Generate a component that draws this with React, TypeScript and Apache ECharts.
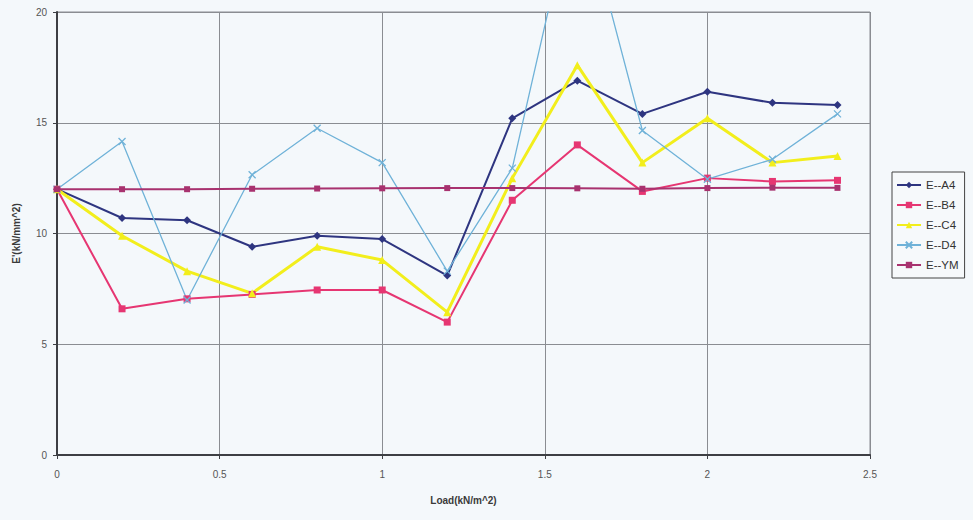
import React, { useEffect, useRef } from "react";
import * as echarts from "echarts";

const loads = [0, 0.2, 0.4, 0.6, 0.8, 1.0, 1.2, 1.4, 1.6, 1.8, 2.0, 2.2, 2.4];
const seriesNames = ["E--A4", "E--B4", "E--C4", "E--D4", "E--YM"];
const eA4 = [12, 10.7, 10.6, 9.4, 9.9, 9.75, 8.1, 15.2, 16.9, 15.4, 16.4, 15.9, 15.8];
const eB4 = [12, 6.6, 7.05, 7.25, 7.45, 7.45, 6.0, 11.5, 14.0, 11.9, 12.5, 12.35, 12.4];
const eC4 = [12, 9.9, 8.3, 7.3, 9.4, 8.8, 6.45, 12.5, 17.6, 13.2, 15.2, 13.2, 13.5];
const eD4 = [12, 14.15, 7.0, 12.65, 14.75, 13.2, 8.3, 12.95, 25.8, 14.65, 12.45, 13.35, 15.4];
const eYM = [12, 12, 12, 12.02, 12.03, 12.04, 12.05, 12.05, 12.04, 12.02, 12.05, 12.07, 12.06];

const xName = "Load(kN/m^2)";
const yName = "E'(kN/mm^2)";

const pairs = (vals: number[]) => loads.map((x, i) => [x, vals[i]]);

export default function App() {
  const ref = useRef<HTMLDivElement>(null);
  useEffect(() => {
    if (!ref.current) return;
    const chart = echarts.init(ref.current, undefined, { renderer: "svg" });
    const font = "'Liberation Sans', Arial, sans-serif";
    const mk = (name: string, vals: number[], color: string, width: number, symbol: string, size: number) => ({
      name,
      type: "line",
      data: pairs(vals),
      clip: true,
      symbol,
      symbolSize: size,
      lineStyle: { color, width },
      itemStyle: { color },
      emphasis: { disabled: true },
    });
    const xPath = "path://M0,0L10,10M10,0L0,10";
    chart.setOption({
      animation: false,
      backgroundColor: "#f4f8fb",
      textStyle: { fontFamily: font },
      grid: { left: 57, right: 103, top: 12, bottom: 65, show: true, borderColor: "#8a8d92", borderWidth: 1 },
      xAxis: {
        type: "value",
        min: 0,
        max: 2.5,
        interval: 0.5,
        name: xName,
        nameLocation: "middle",
        nameGap: 40,
        nameTextStyle: { fontSize: 10, fontWeight: "bold", color: "#3a3a3a", fontFamily: font },
        axisLine: { show: true, onZero: false, lineStyle: { color: "#3d3f44", width: 2 } },
        axisTick: { show: true, length: 4, lineStyle: { color: "#3d3f44" } },
        axisLabel: { fontSize: 10, color: "#555", margin: 14, fontFamily: font },
        splitLine: { show: true, lineStyle: { color: "#8a8d92", width: 1 } },
      },
      yAxis: {
        type: "value",
        min: 0,
        max: 20,
        interval: 5,
        name: yName,
        nameLocation: "middle",
        nameRotate: 90,
        nameGap: 36,
        nameTextStyle: { fontSize: 10, fontWeight: "bold", color: "#3a3a3a", fontFamily: font },
        axisLine: { show: true, onZero: false, lineStyle: { color: "#3d3f44", width: 2 } },
        axisTick: { show: true, length: 4, lineStyle: { color: "#3d3f44" } },
        axisLabel: { fontSize: 10, color: "#555", margin: 10, fontFamily: font },
        splitLine: { show: true, lineStyle: { color: "#8a8d92", width: 1 } },
      },
      legend: {
        orient: "vertical",
        left: 892,
        top: 172,
        data: seriesNames,
        itemWidth: 24,
        itemHeight: 8,
        itemGap: 8,
        padding: [7, 6, 7, 4],
        borderColor: "#444",
        borderWidth: 1,
        backgroundColor: "#f6f9fb",
        textStyle: { fontSize: 11.5, color: "#333", fontFamily: font },
      },
      series: [
        mk(seriesNames[0], eA4, "#2e3580", 2, "diamond", 8),
        mk(seriesNames[1], eB4, "#e63672", 2, "rect", 7),
        mk(seriesNames[2], eC4, "#f2ee1c", 3, "triangle", 8),
        {
          name: seriesNames[3],
          type: "line",
          data: pairs(eD4),
          clip: true,
          symbol: xPath,
          symbolSize: 7,
          lineStyle: { color: "#6fb2d8", width: 1.3 },
          itemStyle: { color: "none", borderColor: "#6fb2d8", borderWidth: 1.3 },
          emphasis: { disabled: true },
        },
        mk(seriesNames[4], eYM, "#a8326f", 2, "rect", 6),
      ],
    });
    return () => chart.dispose();
  }, []);
  return (
    <div
      ref={ref}
      style={{ position: "fixed", left: 0, top: 0, width: 973, height: 520, background: "#f4f8fb" }}
    />
  );
}
